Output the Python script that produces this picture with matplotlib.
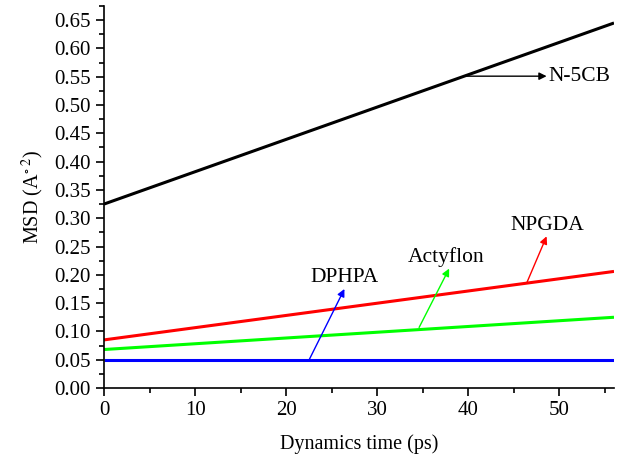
import matplotlib
matplotlib.use('Agg')
import matplotlib.pyplot as plt
from matplotlib.ticker import MultipleLocator

plt.rcParams['font.family'] = ['Liberation Serif', 'DejaVu Serif']
plt.rcParams['mathtext.fontset'] = 'stix'

# Data
time_ps = [0, 56]
msd_n5cb = [0.325, 0.645]
msd_npgda = [0.085, 0.206]
msd_actyflon = [0.068, 0.125]
msd_dphpa = [0.049, 0.049]

names = ['N-5CB', 'NPGDA', 'Actyflon', 'DPHPA']
colors = ['black', '#ff0000', '#00ff00', '#0000ff']
# arrow base (on line), arrow tip, text position
arrow_base = [(39.7, 0.551), (46.4, 0.185), (34.6, 0.107), (22.5, 0.049)]
arrow_tip = [(48.6, 0.551), (48.6, 0.268), (37.9, 0.211), (26.4, 0.175)]
text_pos = [(48.8, 0.551), (48.7, 0.288), (37.6, 0.231), (26.4, 0.195)]

fig = plt.figure(figsize=(6.26, 4.62), dpi=100)
ax = fig.add_axes([104 / 626, 74 / 462, 510 / 626, 382 / 462])

series = [msd_n5cb, msd_npgda, msd_actyflon, msd_dphpa]
for vals, c in zip(series, colors):
    ax.plot(time_ps, vals, color=c, lw=2.2, solid_capstyle='butt')

for i, name in enumerate(names):
    ax.annotate('', xy=arrow_tip[i], xytext=arrow_base[i],
                arrowprops=dict(arrowstyle='-|>', color=colors[i], lw=1,
                                mutation_scale=11, shrinkA=0, shrinkB=0))
    if i == 0:
        ax.text(*text_pos[i], name, ha='left', va='center', fontsize=15.5)
    else:
        ax.text(*text_pos[i], name, ha='center', va='center', fontsize=15.5)

ax.set_xlim(0, 56)
ax.set_ylim(0, 0.675)
ax.xaxis.set_major_locator(MultipleLocator(10))
ax.xaxis.set_minor_locator(MultipleLocator(5))
ax.yaxis.set_major_locator(MultipleLocator(0.05))
ax.yaxis.set_minor_locator(MultipleLocator(0.025))
ax.yaxis.set_major_formatter(matplotlib.ticker.FormatStrFormatter('%.2f'))

ax.spines['top'].set_visible(False)
ax.spines['right'].set_visible(False)
ax.spines['left'].set_linewidth(1.2)
ax.spines['bottom'].set_linewidth(1.2)
ax.tick_params(which='major', direction='out', length=6, width=1.2, labelsize=15)
ax.tick_params(which='minor', direction='out', length=3.5, width=1.2)

ax.set_xlabel('Dynamics time (ps)', fontsize=14.5, labelpad=10)
ax.set_ylabel(r'MSD (A$^{\circ\ 2}$)', fontsize=14.5, labelpad=6)

fig.savefig('out.png', dpi=100)
